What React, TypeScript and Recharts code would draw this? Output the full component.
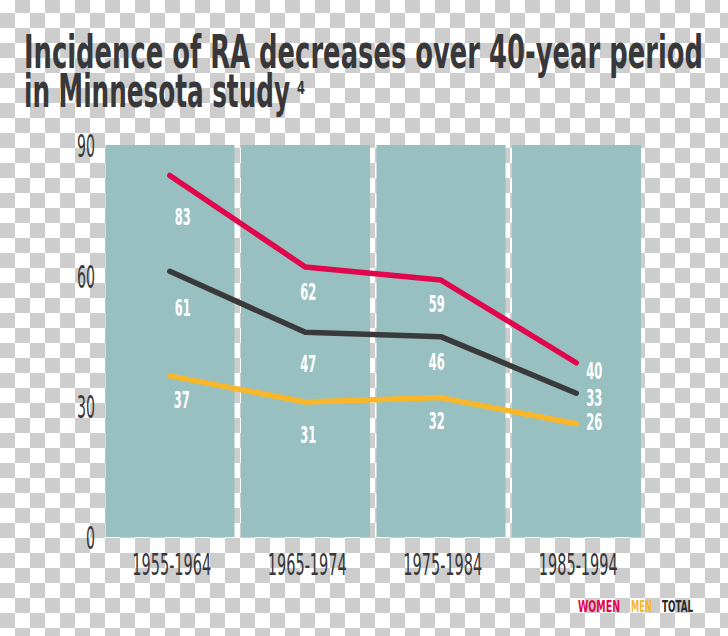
import React from 'react';
import { ComposedChart, Bar, Line, XAxis, YAxis, LabelList } from 'recharts';

// ---- data ----
const periods = ['1955-1964', '1965-1974', '1975-1984', '1985-1994'];
const women = [83, 62, 59, 40];
const men = [37, 31, 32, 26];
const total = [61, 47, 46, 33];
const yTicks = [0, 30, 60, 90];
const yMax = 90;
const titleLine1 = 'Incidence of RA decreases over 40-year period';
const titleLine2 = 'in Minnesota study';
const titleNote = '4';
const legendItems = ['WOMEN', 'MEN', 'TOTAL'];

const data = periods.map((p, i) => ({
  period: p,
  band: yMax,
  women: women[i],
  men: men[i],
  total: total[i],
}));

// ---- styles ----
const FONT = "'Liberation Sans Narrow', 'DejaVu Sans Condensed', 'Roboto', sans-serif";
const TEXT = '#38383a';
const RED = '#e1064c';
const YELLOW = '#f8b72a';
const DARK = '#3a3a3c';
const TEAL = '#98c0c0';

// label offsets (dx, dy) relative to point, per series
const womenOff = [[13, 42], [3, 25], [-4, 24], [18, 8]];
const totalOff = [[13, 37], [3, 32], [-4, 25], [18, 5]];
const menOff = [[12, 24], [3, 33], [-4, 23], [18, -2]];

const makeLabel = (offsets: number[][]) => (props: any) => {
  const { x, y, value, index } = props;
  const off = offsets[index ?? 0] || [0, 0];
  const s = String(value);
  return (
    <text
      x={x + off[0]}
      y={y + off[1]}
      textAnchor="middle"
      dominantBaseline="central"
      fill="#ffffff"
      fontSize={23}
      fontWeight="bold"
      fontFamily={FONT}
      textLength={s.length * 8}
      lengthAdjust="spacingAndGlyphs"
    >
      {s}
    </text>
  );
};

const YTick = (props: any) => {
  const { y, payload } = props;
  const s = String(payload.value);
  return (
    <text
      x={95}
      y={y + 1}
      textAnchor="end"
      dominantBaseline="central"
      fill={TEXT}
      fontSize={32}
      fontFamily={FONT}
      textLength={s.length * 9}
      lengthAdjust="spacingAndGlyphs"
    >
      {s}
    </text>
  );
};

const XTick = (props: any) => {
  const { x, y, payload } = props;
  return (
    <text
      x={x + 2}
      y={y + 27}
      textAnchor="middle"
      dominantBaseline="central"
      fill={TEXT}
      fontSize={31}
      fontFamily={FONT}
      textLength={79}
      lengthAdjust="spacingAndGlyphs"
    >
      {payload.value}
    </text>
  );
};

const checker: React.CSSProperties = {
  position: 'absolute',
  left: 0,
  top: 0,
  width: 728,
  height: 636,
  backgroundColor: '#ffffff',
  backgroundImage:
    'linear-gradient(45deg, #cdcdcd 25%, transparent 25%, transparent 75%, #cdcdcd 75%), linear-gradient(45deg, #cdcdcd 25%, transparent 25%, transparent 75%, #cdcdcd 75%)',
  backgroundSize: '30px 30px',
  backgroundPosition: '0px -2px, 15px 13px',
  overflow: 'hidden',
};

export default function App() {
  return (
    <div style={checker}>
      <svg width={728} height={636} style={{ position: 'absolute', left: 0, top: 0 }}>
        <text
          x={24}
          y={68}
          fill={TEXT}
          fontSize={47}
          fontWeight="bold"
          fontFamily={FONT}
          textLength={679}
          lengthAdjust="spacingAndGlyphs"
        >
          {titleLine1}
        </text>
        <text
          x={24}
          y={107}
          fill={TEXT}
          fontSize={46}
          fontWeight="bold"
          fontFamily={FONT}
          textLength={266}
          lengthAdjust="spacingAndGlyphs"
        >
          {titleLine2}
        </text>
        <text
          x={297}
          y={94}
          fill={TEXT}
          fontSize={17}
          fontWeight="bold"
          fontFamily={FONT}
          textLength={8}
          lengthAdjust="spacingAndGlyphs"
        >
          {titleNote}
        </text>
        <text x={578} y={612} fill={RED} fontSize={15} fontWeight="bold" fontFamily={FONT} textLength={42} lengthAdjust="spacingAndGlyphs">
          {legendItems[0]}
        </text>
        <text x={631} y={612} fill={YELLOW} fontSize={15} fontWeight="bold" fontFamily={FONT} textLength={21} lengthAdjust="spacingAndGlyphs">
          {legendItems[1]}
        </text>
        <text x={662} y={612} fill="#2a2a2a" fontSize={15} fontWeight="bold" fontFamily={FONT} textLength={31} lengthAdjust="spacingAndGlyphs">
          {legendItems[2]}
        </text>
      </svg>
      <div style={{ position: 'absolute', left: 0, top: 0 }}>
        <ComposedChart
          width={728}
          height={636}
          data={data}
          margin={{ top: 145, right: 84, bottom: 59, left: 0 }}
          barCategoryGap={3.5}
        >
          <XAxis
            dataKey="period"
            axisLine={false}
            tickLine={false}
            tickSize={0}
            tickMargin={0}
            height={40}
            tick={<XTick />}
            interval={0}
          />
          <YAxis
            domain={[0, yMax]}
            ticks={yTicks}
            axisLine={false}
            tickLine={false}
            width={102}
            tick={<YTick />}
            interval={0}
          />
          <Bar dataKey="band" fill={TEAL} isAnimationActive={false} />
          <Line
            type="linear"
            dataKey="women"
            stroke={RED}
            strokeWidth={5.5}
            strokeLinecap="round"
            strokeLinejoin="round"
            dot={false}
            activeDot={false}
            isAnimationActive={false}
          >
            <LabelList dataKey="women" content={makeLabel(womenOff)} />
          </Line>
          <Line
            type="linear"
            dataKey="total"
            stroke={DARK}
            strokeWidth={5.5}
            strokeLinecap="round"
            strokeLinejoin="round"
            dot={false}
            activeDot={false}
            isAnimationActive={false}
          >
            <LabelList dataKey="total" content={makeLabel(totalOff)} />
          </Line>
          <Line
            type="linear"
            dataKey="men"
            stroke={YELLOW}
            strokeWidth={5.5}
            strokeLinecap="round"
            strokeLinejoin="round"
            dot={false}
            activeDot={false}
            isAnimationActive={false}
          >
            <LabelList dataKey="men" content={makeLabel(menOff)} />
          </Line>
        </ComposedChart>
      </div>
    </div>
  );
}
